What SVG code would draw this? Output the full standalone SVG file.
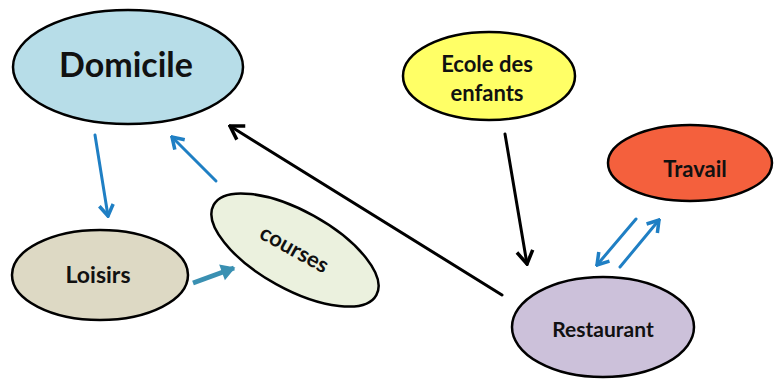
<svg xmlns="http://www.w3.org/2000/svg" width="774" height="380" viewBox="0 0 774 380">
  <defs>
    <style>
      .node { stroke: #000; stroke-width: 2.5; }
      .lbl { font-family: Lato, "Liberation Sans", Arial, sans-serif; font-weight: bold; fill: #111; text-anchor: middle; }
      .blk { stroke: #000; stroke-width: 3; fill: none; stroke-linecap: round; }
      .blu { stroke: #1f7fc4; stroke-width: 3; fill: none; stroke-linecap: round; }
      .teal { stroke: #3a90b2; stroke-width: 5; fill: none; }
    </style>
    <marker id="headBlack" markerUnits="userSpaceOnUse" viewBox="-16 -10 18 20" refX="0" refY="0" markerWidth="18" markerHeight="20" orient="auto">
      <path d="M -13 -8 L 0 0 L -13 8" fill="none" stroke="#000" stroke-width="3.5" stroke-linejoin="miter"/>
    </marker>
    <marker id="headBlue" markerUnits="userSpaceOnUse" viewBox="-14 -10 16 20" refX="0" refY="0" markerWidth="16" markerHeight="20" orient="auto">
      <path d="M -11 -7 L 0 0 L -11 7" fill="none" stroke="#1f7fc4" stroke-width="3.5" stroke-linejoin="miter"/>
    </marker>
    <marker id="headTeal" markerUnits="userSpaceOnUse" viewBox="-14 -10 16 20" refX="0" refY="0" markerWidth="16" markerHeight="20" orient="auto">
      <path d="M -12 -7 L 0 0 L -12 7 Z" fill="#3a90b2" stroke="#3a90b2" stroke-width="1.5" stroke-linejoin="miter"/>
    </marker>
  </defs>

  <rect width="774" height="380" fill="#ffffff"/>

  <g id="connectors">
    <line class="blu" x1="95" y1="135" x2="108" y2="216" marker-end="url(#headBlue)"/>
    <line class="blu" x1="216" y1="181" x2="172" y2="137" marker-end="url(#headBlue)"/>
    <line class="teal" x1="193" y1="283" x2="234" y2="268" marker-end="url(#headTeal)"/>
    <line class="blk" x1="502" y1="295" x2="230" y2="126" marker-end="url(#headBlack)"/>
    <line class="blk" x1="505" y1="134" x2="527" y2="264" marker-end="url(#headBlack)"/>
    <line class="blu" x1="620" y1="267" x2="659" y2="220" marker-end="url(#headBlue)"/>
    <line class="blu" x1="636" y1="219" x2="597" y2="265" marker-end="url(#headBlue)"/>
  </g>

  <g id="domicile">
    <ellipse class="node" cx="128" cy="67" rx="115" ry="57" fill="#b7dde8"/>
    <text class="lbl" x="126" y="77" font-size="34">Domicile</text>
  </g>

  <g id="ecole">
    <ellipse class="node" cx="489" cy="76" rx="86" ry="44" fill="#ffff66"/>
    <text class="lbl" x="487" y="72" font-size="22">Ecole des</text>
    <text class="lbl" x="487" y="101" font-size="22">enfants</text>
  </g>

  <g id="travail">
    <ellipse class="node" cx="690" cy="163" rx="82" ry="38" fill="#f4603d"/>
    <text class="lbl" x="695" y="177" font-size="22">Travail</text>
  </g>

  <g id="loisirs">
    <ellipse class="node" cx="100" cy="275" rx="88" ry="45" fill="#ddd9c4"/>
    <text class="lbl" x="98" y="283" font-size="23">Loisirs</text>
  </g>

  <g id="courses">
    <g transform="translate(295 250) rotate(29)">
      <ellipse class="node" cx="0" cy="0" rx="93" ry="39" fill="#ebf1de"/>
      <text class="lbl" x="-1" y="7" font-size="22">courses</text>
    </g>
  </g>

  <g id="restaurant">
    <ellipse class="node" cx="603" cy="327" rx="91" ry="50" fill="#ccc1da"/>
    <text class="lbl" x="603" y="337" font-size="21">Restaurant</text>
  </g>
</svg>
